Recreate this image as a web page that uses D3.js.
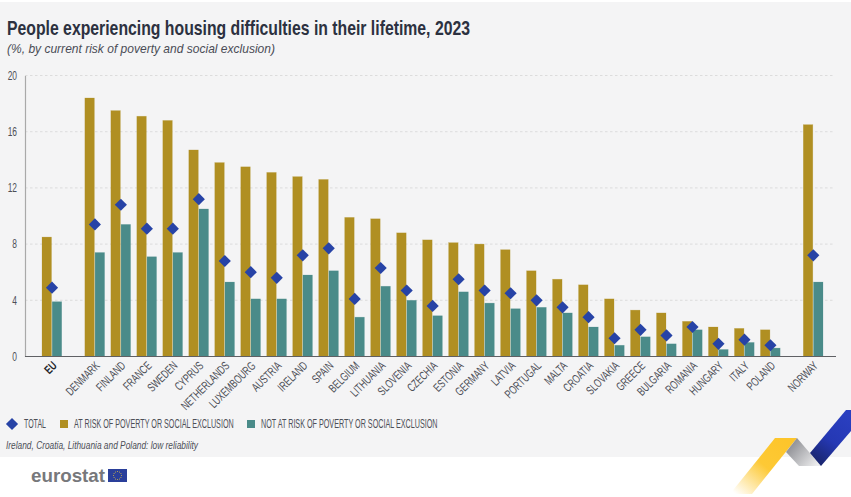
<!DOCTYPE html>
<html>
<head>
<meta charset="utf-8">
<script src="https://cdn.jsdelivr.net/npm/d3@7"></script>
<style>
html, body { margin: 0; padding: 0; background: #fff; }
svg { display: block; }
text { font-family: "Liberation Sans", sans-serif; }
</style>
</head>
<body>
<div id="chart"></div>
<script>
var countries = ["EU", "DENMARK", "FINLAND", "FRANCE", "SWEDEN", "CYPRUS", "NETHERLANDS", "LUXEMBOURG", "AUSTRIA", "IRELAND",
  "SPAIN", "BELGIUM", "LITHUANIA", "SLOVENIA", "CZECHIA", "ESTONIA", "GERMANY", "LATVIA", "PORTUGAL", "MALTA",
  "CROATIA", "SLOVAKIA", "GREECE", "BULGARIA", "ROMANIA", "HUNGARY", "ITALY", "POLAND", "NORWAY"];
var atRisk = [8.5, 18.4, 17.5, 17.1, 16.8, 14.7, 13.8, 13.5, 13.1, 12.8,
  12.6, 9.9, 9.8, 8.8, 8.3, 8.1, 8.0, 7.6, 6.1, 5.5,
  5.1, 4.1, 3.3, 3.1, 2.5, 2.1, 2.0, 1.9, 16.5];
var notAtRisk = [3.9, 7.4, 9.4, 7.1, 7.4, 10.5, 5.3, 4.1, 4.1, 5.8,
  6.1, 2.8, 5.0, 4.0, 2.9, 4.6, 3.8, 3.4, 3.5, 3.1,
  2.1, 0.8, 1.4, 0.9, 1.9, 0.5, 1.0, 0.6, 5.3];
var total = [4.9, 9.4, 10.8, 9.1, 9.1, 11.2, 6.8, 6.0, 5.6, 7.2,
  7.7, 4.1, 6.3, 4.7, 3.6, 5.5, 4.7, 4.5, 4.0, 3.5,
  2.8, 1.3, 1.9, 1.5, 2.1, 0.9, 1.2, 0.8, 7.2];
var yTicks = [0, 4, 8, 12, 16, 20];
var legendLabels = ["TOTAL", "AT RISK OF POVERTY OR SOCIAL EXCLUSION", "NOT AT RISK OF POVERTY OR SOCIAL EXCLUSION"];

var GOLD = "#b08f22", TEAL = "#4a8b89", BLUE = "#2743a6", INK = "#4d4f57";
var width = 851, height = 497;
var barW = 9.5;

var svg = d3.select("#chart").append("svg").attr("width", width).attr("height", height);
var defs = svg.append("defs");

// no narrow font here, so squeeze the glyphs to the width they have in the original
function squeeze(sel, factor) {
  sel.each(function() {
    d3.select(this).attr("textLength", this.getComputedTextLength() * factor).attr("lengthAdjust", "spacingAndGlyphs");
  });
  return sel;
}

// panel
svg.append("rect").attr("x", 0).attr("y", 2).attr("width", width).attr("height", 455).attr("fill", "#f4f4f5");

// EU and Norway sit apart from the rest, so the slots are not evenly spaced
function slot(i) {
  if (i === 0) return 0;
  if (i === countries.length - 1) return i + 1.3;
  return i + 0.65;
}
var xSlot = d3.scaleLinear().domain([0, slot(countries.length - 1)]).range([52, 813.3]);
var x = d3.scaleOrdinal(countries, countries.map(function(c, i) { return xSlot(slot(i)); }));
var y = d3.scaleLinear().domain([0, 20]).range([356.5, 75.5]);

// grid
svg.append("g").selectAll("line").data(yTicks.slice(1)).join("line")
  .attr("x1", 25).attr("x2", 835)
  .attr("y1", y).attr("y2", y)
  .attr("stroke", "#d6d6d6").attr("stroke-width", 0.8).attr("stroke-dasharray", "2.5,2.5");

// bars
function bars(values, color, dx) {
  svg.append("g").selectAll("rect").data(values).join("rect")
    .attr("x", function(d, i) { return x(countries[i]) + dx; })
    .attr("y", y)
    .attr("width", barW)
    .attr("height", function(d) { return y(0) - y(d); })
    .attr("fill", color)
    .attr("stroke", color).attr("stroke-opacity", 0.35).attr("stroke-width", 0.6);
}
bars(atRisk, GOLD, -10);
bars(notAtRisk, TEAL, 0.2);

// diamonds
var diamond = d3.symbol(d3.symbolSquare, 74);
svg.append("g").selectAll("path").data(total).join("path")
  .attr("d", diamond)
  .attr("fill", BLUE)
  .attr("transform", function(d, i) { return "translate(" + x(countries[i]) + "," + y(d) + ") rotate(45)"; });

// y axis
var yAxis = svg.append("g").attr("transform", "translate(25,0)")
  .call(d3.axisLeft(y).tickValues(yTicks).tickSize(0).tickPadding(8));
yAxis.select(".domain").attr("stroke", "#a9a9a9").attr("stroke-width", 1.2);
squeeze(yAxis.selectAll("text").attr("font-size", 12).attr("fill", INK), 0.7);

// x axis
var xAxis = svg.append("g").attr("transform", "translate(0," + y(0) + ")")
  .call(d3.axisBottom(x).tickValues(countries).tickSize(0).tickPadding(0));
xAxis.select(".domain").remove();
var xLabels = xAxis.selectAll("text")
  .attr("font-size", 12)
  .attr("text-anchor", "end")
  .attr("dy", 0)
  .attr("transform", "translate(5,10) rotate(-45)")
  .attr("font-weight", function(d) { return d === "EU" ? "bold" : null; })
  .attr("fill", function(d) { return d === "EU" ? "#24262c" : INK; });
squeeze(xLabels, 0.7);
svg.append("line").attr("x1", 25).attr("x2", 836).attr("y1", y(0)).attr("y2", y(0))
  .attr("stroke", "#5f6064").attr("stroke-width", 1.1);

// title
svg.append("text").attr("x", 7).attr("y", 35).attr("font-size", 21).attr("font-weight", "bold")
  .attr("fill", "#2c3140").attr("textLength", 463).attr("lengthAdjust", "spacingAndGlyphs")
  .text("People experiencing housing difficulties in their lifetime, 2023");
svg.append("text").attr("x", 7).attr("y", 53).attr("font-size", 13).attr("font-style", "italic")
  .attr("fill", "#4a4c55").attr("textLength", 268).attr("lengthAdjust", "spacingAndGlyphs")
  .text("(%, by current risk of poverty and social exclusion)");

// legend, scaled with a transform so each text box stays inside its own place
var legend = svg.append("g");
legend.append("path").attr("d", diamond).attr("fill", BLUE).attr("transform", "translate(12,424) rotate(45)");
legend.append("rect").attr("x", 60).attr("y", 420).attr("width", 8).attr("height", 8).attr("fill", GOLD);
legend.append("rect").attr("x", 247).attr("y", 420).attr("width", 8).attr("height", 8).attr("fill", TEAL);
var legendX = [24, 74, 261], legendW = [22, 160, 177];
legendLabels.forEach(function(label, i) {
  var t = legend.append("text").attr("font-size", 12).attr("fill", INK).text(label);
  var f = legendW[i] / t.node().getComputedTextLength();
  t.attr("transform", "translate(" + legendX[i] + ",428) scale(" + f + ",1)");
});
svg.append("text").attr("x", 6).attr("y", 449).attr("font-size", 11.5).attr("font-style", "italic")
  .attr("fill", INK).attr("textLength", 192).attr("lengthAdjust", "spacingAndGlyphs")
  .text("Ireland, Croatia, Lithuania and Poland: low reliability");

// eurostat logo
svg.append("text").attr("x", 31).attr("y", 482).attr("font-size", 19)
  .attr("font-weight", "bold").attr("fill", "#77787b").attr("textLength", 74).attr("lengthAdjust", "spacingAndGlyphs").text("eurostat");
svg.append("rect").attr("x", 108).attr("y", 469).attr("width", 19).attr("height", 13).attr("fill", "#2a3f9a");
svg.append("g").selectAll("circle").data(d3.range(12)).join("circle")
  .attr("cx", function(d) { return 117.5 + 4 * Math.cos(d * Math.PI / 6); })
  .attr("cy", function(d) { return 475.5 + 4 * Math.sin(d * Math.PI / 6); })
  .attr("r", 0.5).attr("fill", "#e0c040");

// ribbon in the bottom corner
function gradient(id, x1, y1, x2, y2, stops) {
  var g = defs.append("linearGradient").attr("id", id).attr("gradientUnits", "userSpaceOnUse")
    .attr("x1", x1).attr("y1", y1).attr("x2", x2).attr("y2", y2);
  stops.forEach(function(s) { g.append("stop").attr("offset", s[0]).attr("stop-color", s[1]); });
}
gradient("ribYellow", 785, 440, 738, 496, [[0, "#fdc52b"], [0.45, "#fdc935"], [1, "#ffffff"]]);
gradient("ribGrey", 788, 445, 815, 468, [[0, "#8b8c91"], [1, "#eeeeef"]]);
gradient("ribBlue", 848, 415, 815, 460, [[0, "#2a3fc0"], [0.55, "#2538b4"], [1, "#1a2670"]]);
var ribbon = svg.append("g");
function poly(pts, fill) {
  ribbon.append("polygon").attr("points", pts.map(function(p) { return p.join(","); }).join(" ")).attr("fill", fill);
}
poly([[775, 438], [797, 438], [752, 494], [730, 494]], "url(#ribYellow)");
poly([[797, 438], [821, 466], [799, 466], [786, 452]], "url(#ribGrey)");
poly([[846, 410], [851, 410], [851, 431], [821, 466], [810, 453]], "url(#ribBlue)");
</script>
</body>
</html>
